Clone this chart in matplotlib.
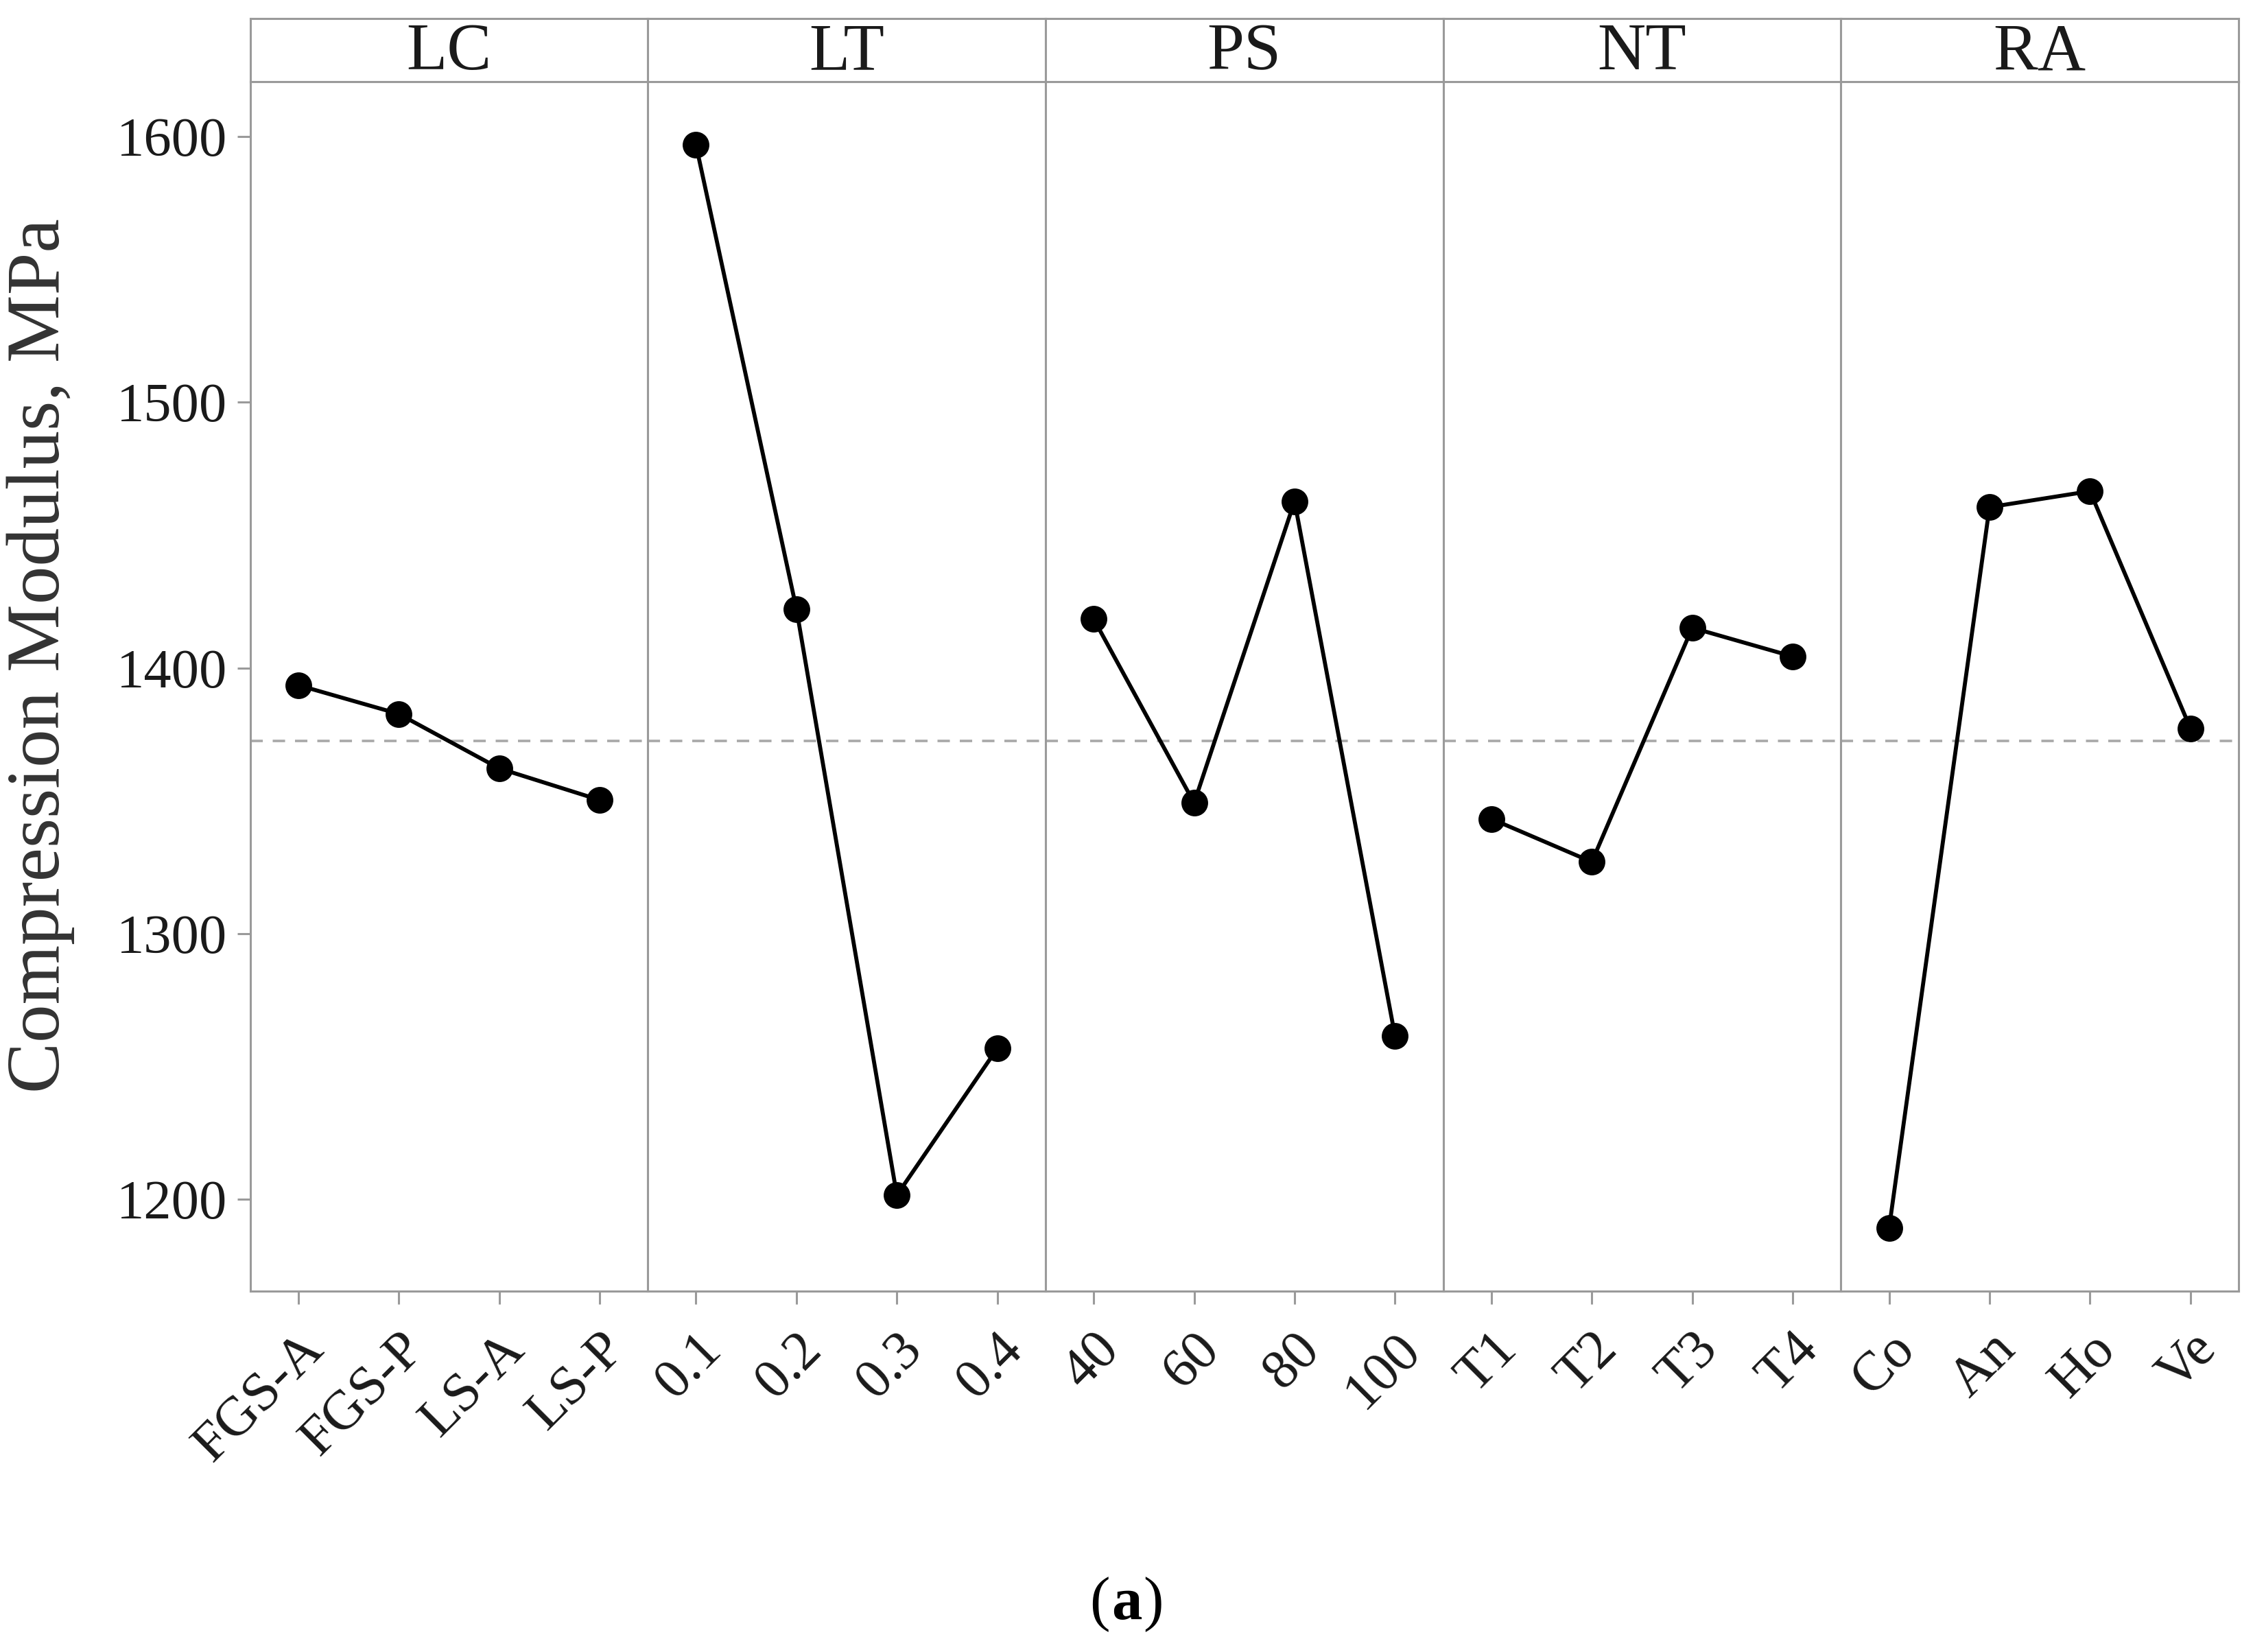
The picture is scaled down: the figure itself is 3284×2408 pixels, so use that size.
import matplotlib

matplotlib.use("Agg")
import matplotlib.pyplot as plt

plt.rcParams["font.family"] = ["Liberation Serif", "DejaVu Serif"]

# factor names and level labels
factors = ["LC", "LT", "PS", "NT", "RA"]
lc_levels = ["FGS-A", "FGS-P", "LS-A", "LS-P"]
lt_levels = ["0.1", "0.2", "0.3", "0.4"]
ps_levels = ["40", "60", "80", "100"]
nt_levels = ["T1", "T2", "T3", "T4"]
ra_levels = ["Co", "An", "Ho", "Ve"]

# mean compression modulus per level, MPa
lc_means = [1393.5, 1382.7, 1362.2, 1350.3]
lt_means = [1596.8, 1422.2, 1201.6, 1256.8]
ps_means = [1418.4, 1349.2, 1462.7, 1261.6]
nt_means = [1343.2, 1327.0, 1415.1, 1404.3]
ra_means = [1189.2, 1460.5, 1466.5, 1377.3]

grand_mean = 1372.4
y_ticks = [1200, 1300, 1400, 1500, 1600]

levels = [lc_levels, lt_levels, ps_levels, nt_levels, ra_levels]
means = [lc_means, lt_means, ps_means, nt_means, ra_means]

GREY = "#9a9a9a"
TEXT = "#1a1a1a"


def main():
    fig = plt.figure(figsize=(16.42, 12.04), dpi=200)

    left, right = 0.111, 0.9936
    bottom, top, strip_top = 0.2183, 0.9504, 0.9887
    width = (right - left) / len(factors)

    first = None
    for i, name in enumerate(factors):
        x0 = left + i * width
        ax = fig.add_axes([x0, bottom, width, top - bottom], sharey=first)
        if first is None:
            first = ax

        xs = range(len(levels[i]))
        ax.axhline(grand_mean, color="#a8a8a8", lw=1.3, ls=(0, (5, 4)), zorder=1)
        ax.plot(xs, means[i], color="black", lw=2.1, marker="o", ms=13, zorder=3)

        ax.set_xlim(-0.48, 3.48)
        ax.set_ylim(1165.4, 1620.5)
        ax.set_xticks(list(xs))
        ax.set_xticklabels(levels[i], rotation=45, ha="right", va="top",
                           rotation_mode="anchor", fontsize=29, color=TEXT)
        ax.tick_params(axis="x", length=7, width=1.1, color=GREY, pad=10)

        if i == 0:
            ax.set_yticks(y_ticks)
            ax.tick_params(axis="y", length=7, width=1.1, color=GREY,
                           labelsize=29, labelcolor=TEXT, pad=5)
        else:
            ax.tick_params(axis="y", left=False, labelleft=False)

        for sp in ax.spines.values():
            sp.set_color(GREY)
            sp.set_linewidth(1.1)

        # strip header
        sax = fig.add_axes([x0, top, width, strip_top - top])
        sax.set_xticks([])
        sax.set_yticks([])
        for sp in sax.spines.values():
            sp.set_color(GREY)
            sp.set_linewidth(1.1)
        sax.text(0.5, 0.45, name, ha="center", va="center", fontsize=35,
                 color=TEXT, transform=sax.transAxes)

    fig.text(0.018, 0.603, "Compression Modulus, MPa", rotation=90,
             ha="center", va="center", fontsize=40, color="#333333")

    cap_y = 0.029
    fig.text(0.5, cap_y, "a", ha="center", va="center", fontsize=32,
             fontweight="bold")
    fig.text(0.4925, cap_y, "(", ha="right", va="center", fontsize=32)
    fig.text(0.5075, cap_y, ")", ha="left", va="center", fontsize=32)

    fig.savefig("out.png", dpi=200)


if __name__ == "__main__":
    main()
